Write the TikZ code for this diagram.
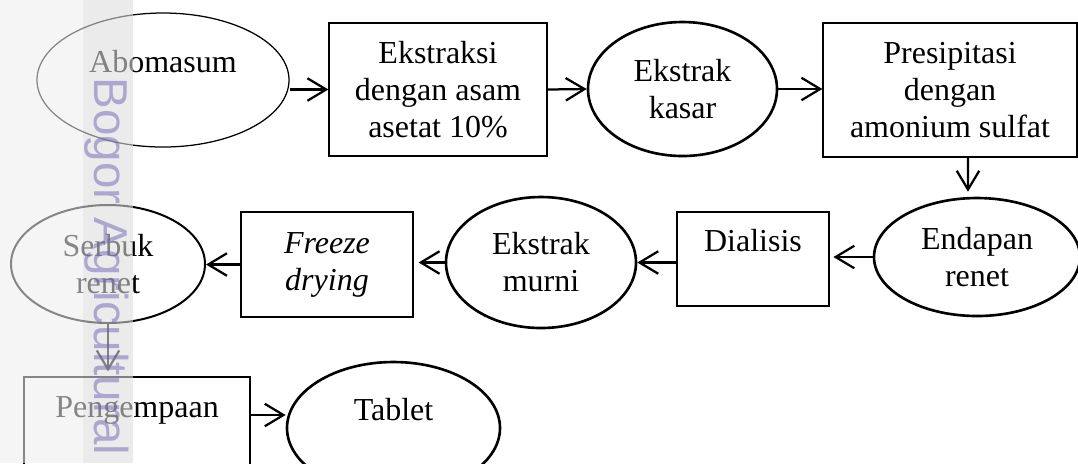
\documentclass[tikz,border=0pt]{standalone}
\usepackage{fontspec}
\setmainfont{Liberation Serif}
\newfontfamily\wmfont{Liberation Sans}
\usepackage{xcolor}
\usepackage{tikz}
\usetikzlibrary{shapes.geometric, arrows.meta}
\definecolor{stripA}{RGB}{245,245,245}
\definecolor{stripB}{RGB}{235,235,235}
\definecolor{wmtext}{RGB}{110,100,180}

\begin{document}
\begin{tikzpicture}[x=0.4pt, y=-0.4pt,
    font=\fontsize{12.8}{14.8}\selectfont,
    proc/.style={draw, line width=0.5pt, align=center, inner sep=1pt},
    blob/.style={draw, ellipse, line width=1.05pt, align=center, inner sep=0pt},
    arr/.style={-{Straight Barb[length=7.5pt, width=9pt]}, line width=0.9pt}]
        % Canvas and watermark strips
        \useasboundingbox (0,0) rectangle (1078,463);
        \clip (0,0) rectangle (1078,463);
        \fill[stripA] (0,0) rectangle (83,463);
        \fill[stripB] (83,0) rectangle (133,463);

        % Top row
        \node[blob, line width=0.5pt, minimum width=100.8pt, minimum height=53.6pt] (abomasum) at (163,80) {Abomasum\\ };
        \node[proc, minimum width=87.2pt, minimum height=53.2pt] (ekstraksi) at (438,89.5) {Ekstraksi\\dengan asam\\asetat 10\%};
        \node[blob, minimum width=75.6pt, minimum height=53.6pt] (kasar) at (682.5,89) {Ekstrak\\kasar};
        \node[proc, minimum width=101.6pt, minimum height=53.6pt] (presipitasi) at (950,90) {Presipitasi\\dengan\\amonium sulfat};

        % Middle row
        \node[blob, minimum width=82.4pt, minimum height=47.2pt] (endapan) at (977,257) {Endapan\\renet};
        \node[proc, minimum width=60.8pt, minimum height=37.6pt] (dialisis) at (753,259) {Dialisis\\ };
        \node[blob, minimum width=76pt, minimum height=52.4pt] (murni) at (541,262.5) {Ekstrak\\murni};
        \node[proc, minimum width=68.8pt, minimum height=42pt] (freeze) at (327,264.5) {\textit{Freeze}\\\textit{drying}};
        \node[blob, line width=0.8pt, minimum width=77.6pt, minimum height=47.2pt] (serbuk) at (108,264) {Serbuk\\renet};

        % Bottom row
        \node[proc, minimum width=90.4pt, minimum height=39.2pt] (kempa) at (137,426) {Pengempaan\\ };
        \node[blob, minimum width=85.2pt, minimum height=52.8pt] (tablet) at (393.5,428) {Tablet\\ };

        % Arrows
        \draw[arr] (abomasum.east |- ekstraksi.west) -- (ekstraksi.west);
        \draw[arr] (ekstraksi.east) -- (kasar.west);
        \draw[arr] (kasar.east) -- (kasar.east -| presipitasi.west);
        \draw[arr, shorten >=2pt] ([xshift=7.2pt]presipitasi.south) -- ([xshift=-3.6pt]endapan.north);
        \draw[arr, shorten >=1.5pt] (endapan.west) -- (endapan.west -| dialisis.east);
        \draw[arr] (dialisis.west |- murni.east) -- (murni.east);
        \draw[arr, shorten >=2pt] (murni.west) -- (murni.west -| freeze.east);
        \draw[arr] (freeze.west) -- (freeze.west -| serbuk.east);
        \draw[arr, shorten >=2pt] (serbuk.south) -- (serbuk.south |- kempa.north);
        \draw[arr] ([yshift=4.4pt]kempa.east) -- ([yshift=4.4pt]kempa.east -| tablet.west);

        % Faded watermark band
        \fill[stripA, opacity=0.55] (0,0) rectangle (83,463);
        \fill[stripB, opacity=0.55] (83,0) rectangle (133,463);
        \node[rotate=-90, anchor=base west, inner sep=0pt, font=\wmfont\fontsize{19}{19}\selectfont, text=wmtext, text opacity=0.5] (watermark) at (94,77) {Bogor Agricultural University};
\end{tikzpicture}
\end{document}
